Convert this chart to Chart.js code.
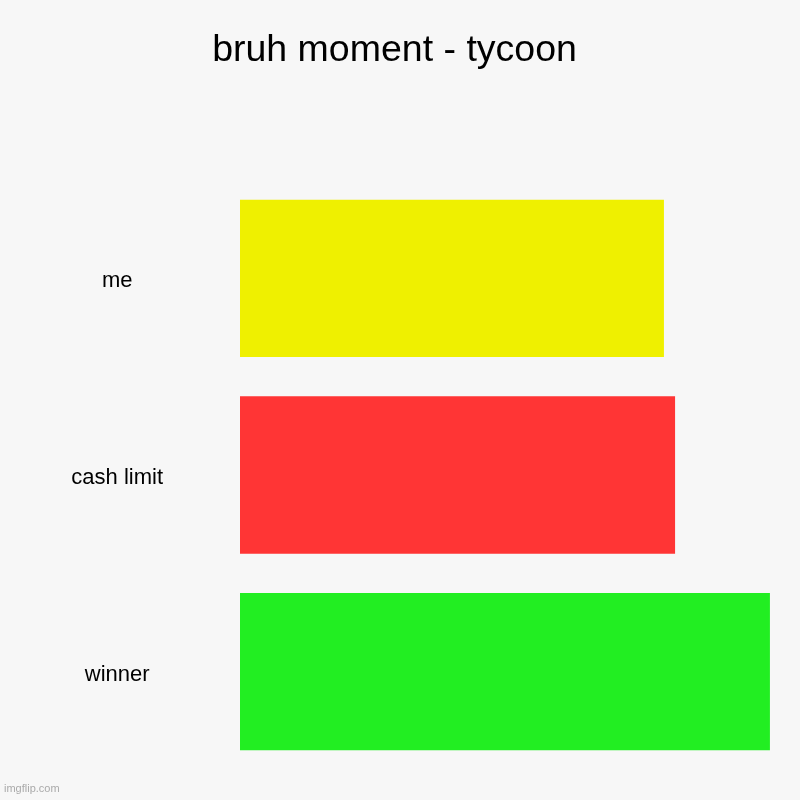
<!DOCTYPE html>
<html>
<head>
<meta charset="utf-8">
<script src="https://cdn.jsdelivr.net/npm/chart.js@4/dist/chart.umd.min.js"></script>
<style>
html,body{margin:0;padding:0;background:#f7f7f7;}
#wrap{position:relative;width:800px;height:800px;}
#mark{position:absolute;left:4px;top:782px;font:11px "Liberation Sans",Arial,sans-serif;color:#aaa;}
</style>
</head>
<body>
<div id="wrap"><canvas id="c" width="800" height="800"></canvas><div id="mark">imgflip.com</div></div>
<script>
const categories = ["me", "cash limit", "winner"];
const values = [80, 82.1, 100];
const barColors = ["rgb(239,240,0)", "rgb(255,53,53)", "rgb(34,238,34)"];
const titleText = "bruh moment - tycoon";

const bgPlugin = {
  id: 'bg',
  beforeDraw(chart) {
    const ctx = chart.ctx;
    ctx.save();
    ctx.fillStyle = '#f7f7f7';
    ctx.fillRect(0, 0, chart.width, chart.height);
    ctx.restore();
  }
};

new Chart(document.getElementById('c'), {
  type: 'bar',
  data: {
    labels: categories,
    datasets: [{
      data: values,
      backgroundColor: barColors,
      borderWidth: 0,
      categoryPercentage: 0.8,
      barPercentage: 1.0
    }]
  },
  options: {
    indexAxis: 'y',
    responsive: false,
    animation: false,
    devicePixelRatio: 1,
    layout: { padding: { left: 0, right: 11, top: 0, bottom: 30 } },
    plugins: {
      legend: { display: false },
      tooltip: { enabled: false },
      title: {
        display: true,
        text: titleText,
        color: '#000',
        font: { family: '"Liberation Sans", Arial, sans-serif', size: 37.5, weight: 'normal' },
        padding: { top: 28, bottom: 107 }
      }
    },
    scales: {
      x: { display: false, min: 0, max: 103.6 },
      y: {
        grid: { display: false, drawTicks: false },
        border: { display: false },
        afterFit(scale) { scale.width = 240; scale.paddingTop = 0; scale.paddingBottom = 0; },
        ticks: {
          color: '#000',
          crossAlign: 'center',
          padding: 77,
          labelOffset: 3,
          font: { family: '"Liberation Sans", Arial, sans-serif', size: 22 }
        }
      }
    }
  },
  plugins: [bgPlugin]
});
</script>
</body>
</html>
